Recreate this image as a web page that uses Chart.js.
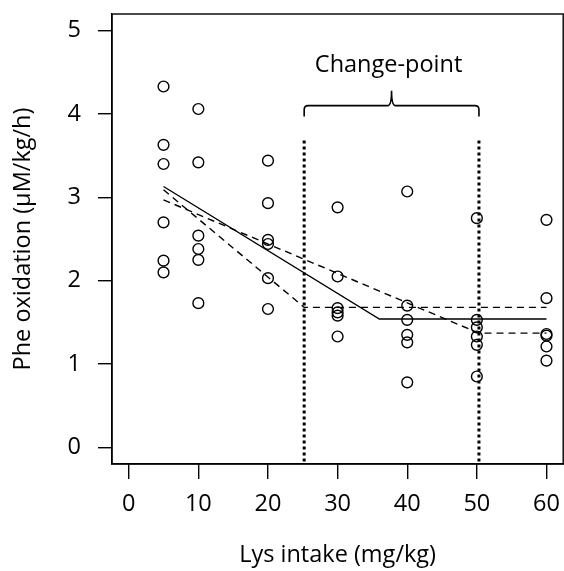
<!DOCTYPE html>
<html>
<head>
<meta charset="utf-8">
<script src="https://cdn.jsdelivr.net/npm/chart.js@4"></script>
<style>
    html, body { margin: 0; padding: 0; background: #fff; overflow: hidden; }
    #wrap { width: 570px; height: 571px; }
</style>
</head>
<body>
<div id="wrap"><canvas id="chart"></canvas></div>
<script>
// Lys intake levels (mg/kg) and Phe oxidation values at each level
const lysIntake = [5, 10, 20, 30, 40, 50, 60];
const pheOx = [
    [4.33, 3.63, 3.40, 2.70, 2.24, 2.10],
    [4.06, 3.42, 2.54, 2.38, 2.25, 1.73],
    [3.44, 2.93, 2.49, 2.44, 2.03, 1.66],
    [2.88, 2.05, 1.67, 1.62, 1.58, 1.33],
    [3.07, 1.70, 1.53, 1.35, 1.26, 0.78],
    [2.75, 1.53, 1.44, 1.33, 1.23, 0.85],
    [2.73, 1.79, 1.36, 1.34, 1.21, 1.04]
];

// fitted broken-line model and its two bounds
const fitX = [5, 36, 60];
const fitY = [3.13, 1.54, 1.54];
const lowerX = [5, 25.2, 60];
const lowerY = [3.09, 1.68, 1.68];
const upperX = [5, 50.3, 60];
const upperY = [2.97, 1.37, 1.37];

// change-point interval
const cpBounds = [25.2, 50.3];
const cpLineY = [-0.17, 3.71];

const xTicks = [0, 10, 20, 30, 40, 50, 60];
const yTicks = [0, 1, 2, 3, 4, 5];

const FONT = 'Open Sans';
const FS = 23.5;

const points = [];
lysIntake.forEach((x, i) => pheOx[i].forEach(y => points.push({ x: x, y: y })));

const toXY = (xs, ys) => xs.map((x, i) => ({ x: x, y: ys[i] }));

const lineStyle = {
    type: 'line',
    borderColor: '#000',
    borderWidth: 1.4,
    pointRadius: 0,
    fill: false,
    tension: 0
};

// box round the plot + the brace with its label
const boxAndBrace = {
    id: 'boxAndBrace',
    afterDatasetsDraw(chart) {
        const { ctx, chartArea, scales } = chart;
        const sx = scales.x, sy = scales.y;
        ctx.save();
        ctx.strokeStyle = '#000';
        ctx.lineWidth = 1.4;
        ctx.strokeRect(chartArea.left, chartArea.top, chartArea.right - chartArea.left, chartArea.bottom - chartArea.top);

        const x1 = sx.getPixelForValue(cpBounds[0]);
        const x2 = sx.getPixelForValue(cpBounds[1]);
        const xm = (x1 + x2) / 2;
        const yb = sy.getPixelForValue(4.10);
        const ye = sy.getPixelForValue(3.97);
        const yp = sy.getPixelForValue(4.28);
        const r = 4;
        ctx.lineWidth = 1.6;
        ctx.beginPath();
        ctx.moveTo(x1, ye);
        ctx.lineTo(x1, yb + r);
        ctx.quadraticCurveTo(x1, yb, x1 + r, yb);
        ctx.lineTo(xm - r, yb);
        ctx.quadraticCurveTo(xm, yb, xm, yp);
        ctx.quadraticCurveTo(xm, yb, xm + r, yb);
        ctx.lineTo(x2 - r, yb);
        ctx.quadraticCurveTo(x2, yb, x2, yb + r);
        ctx.lineTo(x2, ye);
        ctx.stroke();

        ctx.fillStyle = '#000';
        ctx.font = FS + 'px "' + FONT + '"';
        ctx.textAlign = 'center';
        ctx.textBaseline = 'alphabetic';
        ctx.fillText('Change-point', xm - 3, sy.getPixelForValue(4.50));
        ctx.restore();
    }
};

new Chart(document.getElementById('chart').getContext('2d'), {
    data: {
        datasets: [
            {
                type: 'scatter',
                data: points,
                pointStyle: 'circle',
                pointRadius: 5.4,
                pointBorderWidth: 1.4,
                pointBorderColor: '#000',
                pointBackgroundColor: 'rgba(0,0,0,0)'
            },
            Object.assign({}, lineStyle, { data: toXY(fitX, fitY) }),
            Object.assign({}, lineStyle, { data: toXY(lowerX, lowerY), borderDash: [7, 5] }),
            Object.assign({}, lineStyle, { data: toXY(upperX, upperY), borderDash: [7, 5] }),
            Object.assign({}, lineStyle, {
                data: toXY([cpBounds[0], cpBounds[0]], cpLineY),
                borderWidth: 3, borderDash: [3, 3]
            }),
            Object.assign({}, lineStyle, {
                data: toXY([cpBounds[1], cpBounds[1]], cpLineY),
                borderWidth: 3, borderDash: [3, 3]
            })
        ]
    },
    options: {
        responsive: true,
        maintainAspectRatio: false,
        animation: false,
        layout: { padding: { left: 0, top: 14, right: 2, bottom: 0 } },
        plugins: {
            legend: { display: false },
            tooltip: { enabled: false }
        },
        scales: {
            x: {
                type: 'linear',
                min: -2.4,
                max: 62.4,
                afterFit: s => { s.height = 107; s.paddingLeft = 0; s.paddingRight = 0; },
                afterBuildTicks: s => { s.ticks = xTicks.map(v => ({ value: v })); },
                ticks: {
                    includeBounds: false,
                    color: '#000',
                    padding: 11,
                    maxRotation: 0,
                    font: { family: FONT, size: FS }
                },
                grid: { drawOnChartArea: false, tickLength: 15, color: '#000', lineWidth: 1.4 },
                border: { display: true, color: '#000', width: 1.4 },
                title: {
                    display: true,
                    text: 'Lys intake (mg/kg)',
                    color: '#000',
                    padding: { top: 0, bottom: 2 },
                    font: { family: FONT, size: FS }
                }
            },
            y: {
                type: 'linear',
                min: -0.2,
                max: 5.2,
                afterFit: s => { s.width = 112; s.paddingTop = 0; s.paddingBottom = 0; },
                afterBuildTicks: s => { s.ticks = yTicks.map(v => ({ value: v })); },
                ticks: {
                    includeBounds: false,
                    color: '#000',
                    padding: 17,
                    font: { family: FONT, size: FS }
                },
                grid: { drawOnChartArea: false, tickLength: 14, color: '#000', lineWidth: 1.4 },
                border: { display: true, color: '#000', width: 1.4 },
                title: {
                    display: true,
                    text: 'Phe oxidation (µM/kg/h)',
                    color: '#000',
                    padding: { top: 9, bottom: 0 },
                    font: { family: FONT, size: FS }
                }
            }
        }
    },
    plugins: [boxAndBrace]
});
</script>
</body>
</html>
